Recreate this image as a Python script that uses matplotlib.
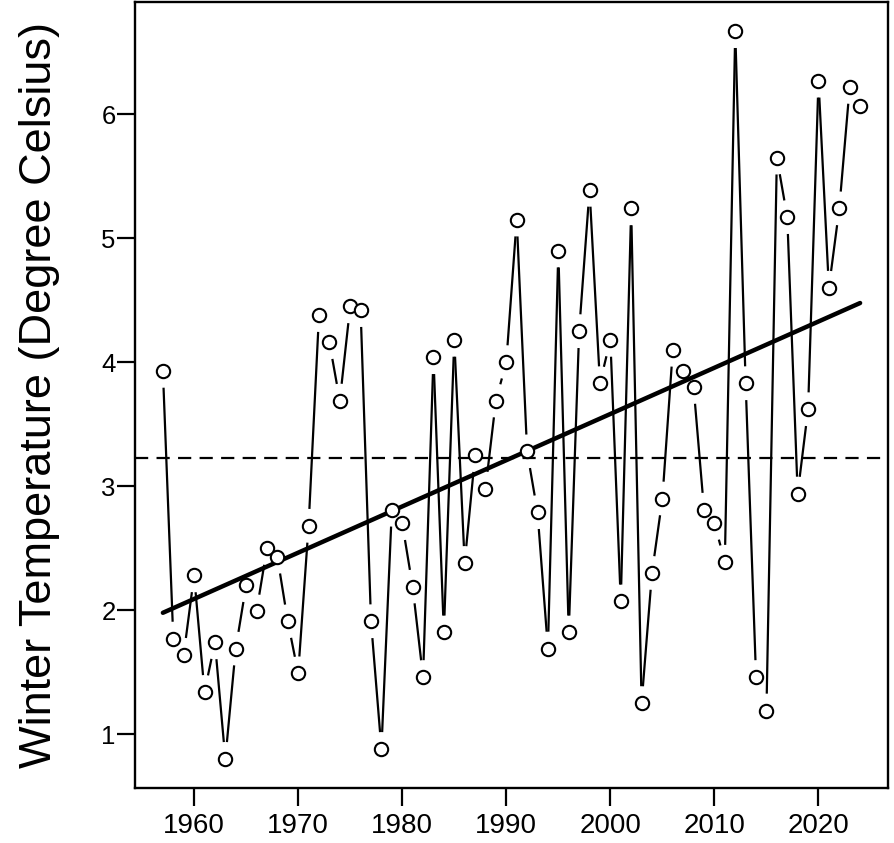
## Importing libraries
import numpy as np
import matplotlib
matplotlib.use("Agg")
import matplotlib.pyplot as plt

## Winter temperature record (degree Celsius), one value per year
years = list(range(1957, 2025))
temps = [3.93, 1.77, 1.64, 2.28, 1.34, 1.74, 0.80, 1.69, 2.20, 1.99,
         2.50, 2.43, 1.91, 1.49, 2.68, 4.38, 4.16, 3.69, 4.45, 4.42,
         1.91, 0.88, 2.81, 2.70, 2.19, 1.46, 4.04, 1.82, 4.18, 2.38,
         3.25, 2.98, 3.69, 4.00, 5.15, 3.28, 2.79, 1.69, 4.90, 1.82,
         4.25, 5.39, 3.83, 4.18, 2.07, 5.24, 1.25, 2.30, 2.90, 4.10,
         3.93, 3.80, 2.81, 2.70, 2.39, 6.67, 3.83, 1.46, 1.19, 5.65,
         5.17, 2.94, 3.62, 6.27, 4.60, 5.24, 6.22, 6.07]
x_ticks = [1960, 1970, 1980, 1990, 2000, 2010, 2020]
y_ticks = [1, 2, 3, 4, 5, 6]

x = np.array(years, dtype=float)
y = np.array(temps)

plt.rcParams['font.family'] = ['Liberation Sans', 'DejaVu Sans']
plt.rcParams['lines.scale_dashes'] = False

fig = plt.figure(figsize=(8.95, 8.43), dpi=100)
ax = fig.add_axes([135 / 895, 1 - 788 / 843, 753 / 895, 786 / 843])

## R style axis limits (4% padding on each side)
xr = x.max() - x.min()
yr = y.max() - y.min()
ax.set_xlim(x.min() - 0.04 * xr, x.max() + 0.04 * xr)
ax.set_ylim(y.min() - 0.04 * yr, y.max() + 0.04 * yr)

## Open circles
ax.plot(x, y, linestyle='none', marker='o', markersize=9.6,
        markerfacecolor='white', markeredgecolor='black', markeredgewidth=1.5, zorder=3)

## Connecting lines with a gap around each point (like type="b")
gap = 18.0  # pixels
pts = ax.transData.transform(np.column_stack([x, y]))
inv = ax.transData.inverted()
for i in range(len(pts) - 1):
    p0, p1 = pts[i], pts[i + 1]
    d = np.hypot(*(p1 - p0))
    if d <= 2 * gap:
        continue
    u = (p1 - p0) / d
    seg = inv.transform(np.array([p0 + gap * u, p1 - gap * u]))
    ax.plot(seg[:, 0], seg[:, 1], color='black', linewidth=1.6, zorder=2)

## Mean line and linear trend
ax.axhline(y.mean(), color='black', linewidth=1.6, dashes=(9.5, 6), zorder=1)
slope, intercept = np.polyfit(x, y, 1)
xl = np.array([x.min(), x.max()])
ax.plot(xl, intercept + slope * xl, color='black', linewidth=3.2,
        solid_capstyle='round', zorder=2)

## Axes styling
ax.set_xticks(x_ticks)
ax.set_yticks(y_ticks)
ax.tick_params(axis='both', direction='out', length=13, width=1.6, colors='black')
ax.tick_params(axis='x', labelsize=20, pad=5)
ax.tick_params(axis='y', labelsize=18.5, pad=1)
for s in ax.spines.values():
    s.set_linewidth(1.7)

fig.text(40 / 895, 1 - 395 / 843, 'Winter Temperature (Degree Celsius)',
         rotation=90, ha='center', va='center', fontsize=32.5)

fig.savefig('out.png', dpi=100)
